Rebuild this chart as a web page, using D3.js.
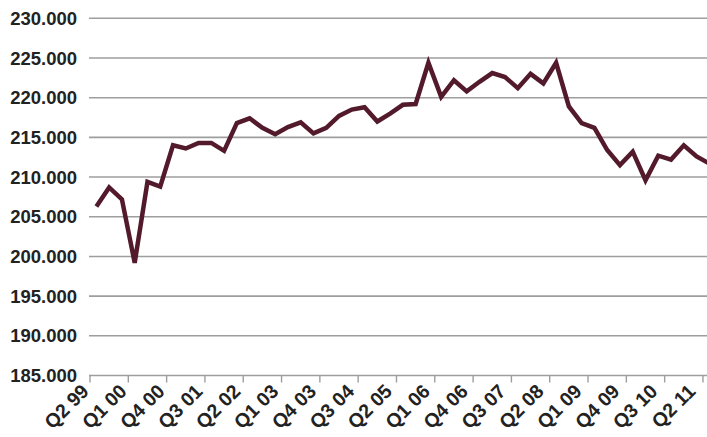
<!DOCTYPE html>
<html>
<head>
<meta charset="utf-8">
<script src="https://cdn.jsdelivr.net/npm/d3@7"></script>
<style>
  body { margin: 0; background: #fff; }
  svg { display: block; font-family: "Liberation Sans", Arial, sans-serif; }
</style>
</head>
<body>
<div id="chartDiv"></div>
<script>

// quarters from Q2 99 to Q2 11
var quarters = ["Q2 99","Q3 99","Q4 99",
  "Q1 00","Q2 00","Q3 00","Q4 00",
  "Q1 01","Q2 01","Q3 01","Q4 01",
  "Q1 02","Q2 02","Q3 02","Q4 02",
  "Q1 03","Q2 03","Q3 03","Q4 03",
  "Q1 04","Q2 04","Q3 04","Q4 04",
  "Q1 05","Q2 05","Q3 05","Q4 05",
  "Q1 06","Q2 06","Q3 06","Q4 06",
  "Q1 07","Q2 07","Q3 07","Q4 07",
  "Q1 08","Q2 08","Q3 08","Q4 08",
  "Q1 09","Q2 09","Q3 09","Q4 09",
  "Q1 10","Q2 10","Q3 10","Q4 10",
  "Q1 11","Q2 11"];

var values = [206300, 208700, 207200, 199200, 209400, 208800, 214000, 213600, 214300, 214300,
  213300, 216800, 217400, 216200, 215400, 216300, 216900, 215500, 216200, 217700,
  218500, 218800, 217000, 218000, 219100, 219200, 224400, 220100, 222200, 220800,
  222000, 223100, 222600, 221200, 223000, 221800, 224400, 218900, 216800, 216200,
  213400, 211500, 213200, 209600, 212700, 212200, 214000, 212600, 211700];

var yTicks = [185000, 190000, 195000, 200000, 205000, 210000, 215000, 220000, 225000, 230000];

// every third quarter gets a label
var tickLabels = quarters.filter(function(d, i) { return i % 3 === 0; });

var svg = d3.select("#chartDiv").append("svg")
    .attr("width", 707)
    .attr("height", 437);

var plotLeft = 90, plotTop = 18.3, plotBottom = 375.5;
var step = 12.77;

var x_scale = d3.scaleBand()
    .domain(quarters)
    .range([plotLeft, plotLeft + step * quarters.length])
    .padding(0);

var y_scale = d3.scaleLinear()
    .domain([185000, 230000])
    .range([plotBottom, plotTop]);

var fmt = d3.formatLocale({decimal: ",", thousands: ".", grouping: [3], currency: ["", ""]})
    .format(",.0f");

// gridlines
svg.append("g").selectAll("line").data(yTicks).enter().append("line")
    .attr("x1", plotLeft - 1)
    .attr("x2", 707)
    .attr("y1", function(d) { return y_scale(d); })
    .attr("y2", function(d) { return y_scale(d); })
    .attr("stroke", "#9e9e9e")
    .attr("stroke-width", 1.6);

// y labels
svg.append("g").selectAll("text").data(yTicks).enter().append("text")
    .attr("x", 77)
    .attr("y", function(d) { return y_scale(d); })
    .attr("dy", "0.36em")
    .attr("text-anchor", "end")
    .attr("font-size", 18.5)
    .attr("font-weight", "bold")
    .attr("fill", "#222")
    .text(function(d) { return fmt(d); });

// x ticks at category boundaries
svg.append("g").selectAll("line").data(tickLabels).enter().append("line")
    .attr("x1", function(d) { return x_scale(d); })
    .attr("x2", function(d) { return x_scale(d); })
    .attr("y1", plotBottom)
    .attr("y2", plotBottom + 7)
    .attr("stroke", "#9e9e9e")
    .attr("stroke-width", 1.4);

// x labels
svg.append("g").selectAll("text").data(tickLabels).enter().append("text")
    .attr("transform", function(d, i) {
      return "translate(" + (x_scale(d) - i * 0.4) + "," + (plotBottom + 17) + ") rotate(-45)";
    })
    .attr("text-anchor", "end")
    .attr("font-size", 19.5)
    .attr("font-weight", "bold")
    .attr("fill", "#222")
    .text(function(d) { return d; });

var line = d3.line()
    .x(function(d, i) { return x_scale(quarters[i]) + x_scale.bandwidth() / 2; })
    .y(function(d) { return y_scale(d); });

svg.append("path")
    .datum(values)
    .attr("fill", "none")
    .attr("stroke", "#531a2c")
    .attr("stroke-width", 4.5)
    .attr("stroke-linejoin", "miter")
    .attr("d", line);

</script>
</body>
</html>
